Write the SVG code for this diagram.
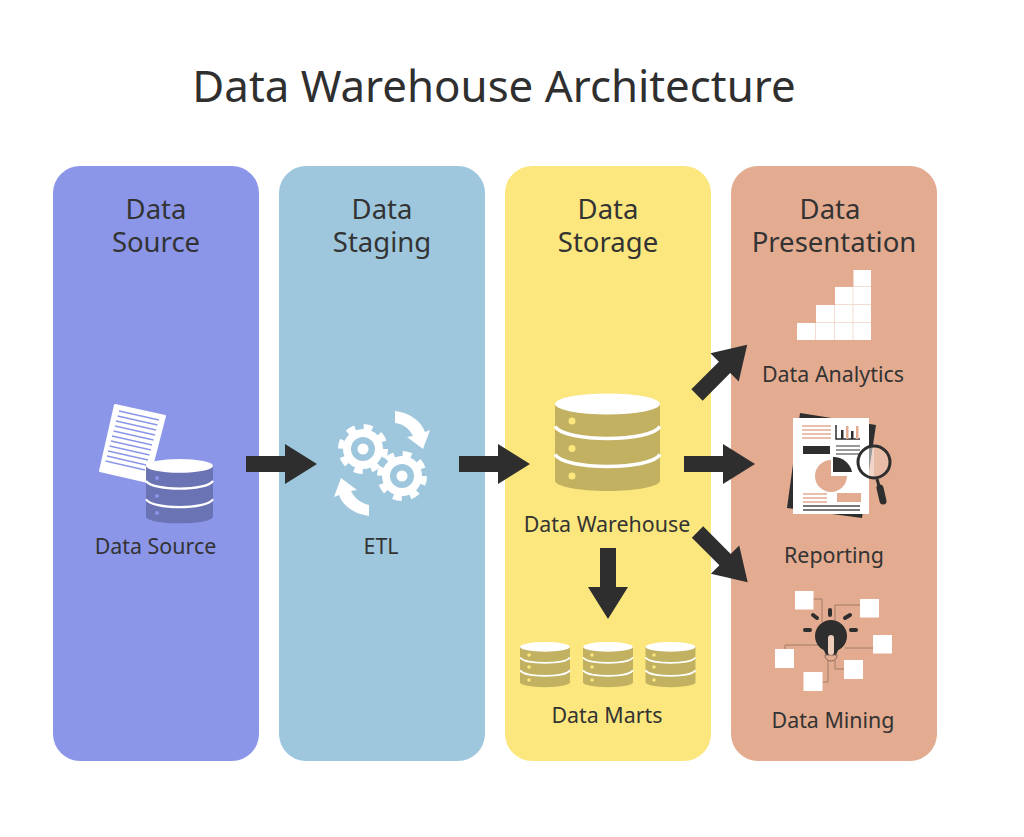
<svg xmlns="http://www.w3.org/2000/svg" xmlns:xlink="http://www.w3.org/1999/xlink" width="1024" height="837" viewBox="0 0 1024 837">
<style>
  text { font-family: "Noto Sans", "Open Sans", "Liberation Sans", sans-serif; fill: #333; text-anchor: middle; }
  .title { font-size: 43.800px; fill: #2f2f2f; }
  .head { font-size: 27.500px; }
  .label { font-size: 21.400px; }
  .arrow { fill: #2e2e2e; }
  .paper { fill: #fff; }
  .ink { fill: #2e2e2e; }
  .wire { fill: none; stroke: #a07c69; stroke-width: 1; }
  .ray { stroke: #2e2e2e; stroke-width: 4; stroke-linecap: round; }
</style>
<defs>
  <polygon id="arrowShape" points="0,-8 39,-8 39,-20 71,0 39,20 39,8 0,8"/>
  <!-- three-tier cylinder, 105 wide and 97 tall; the tint comes from the using element -->
  <g id="cylinder">
    <path d="M0,10 V87 C0,93 24,97.500 52.500,97.500 S105,93 105,87 V10 Z"/>
    <ellipse cx="52.500" cy="10.500" rx="52.500" ry="10.500" fill="#fff"/>
    <path d="M0,33 C10,49 95,49 105,33 M0,61 C10,77 95,77 105,61" fill="none" stroke="#fff" stroke-width="3.500"/>
  </g>
  <g id="gear">
    <circle r="20" fill="#fff"/>
    <circle r="21.500" fill="none" stroke="#fff" stroke-width="7" stroke-dasharray="8.500 8.390"/>
    <circle r="12" fill="#9ec7dd"/>
    <circle r="5.500" fill="#fff"/>
  </g>
</defs>

<rect width="1024" height="837" fill="#fff"/>
<text class="title" x="494" y="102">Data Warehouse Architecture</text>

<g id="data-source">
  <rect x="53" y="166" width="206" height="595" rx="27" fill="#8b96e9"/>
  <text class="head"><tspan x="156" y="219">Data</tspan><tspan x="156" y="252">Source</tspan></text>
  <polygon class="paper" stroke="#fff" stroke-width="2" stroke-linejoin="round" points="115,405 165,416 148,482 100,471"/>
  <path stroke="#8b96e9" stroke-width="1.300" d="M119,411 L159,420 M117.500,416 L157.500,425 M116,421 L156,430 M115,426 L155,435 M113.500,431 L153.500,440 M112,436 L152,445 M111,441 L151,450 M109.500,446 L149.500,455 M108,451 L148,460 M107,456 L146,465 M105.500,461 L145,470"/>
  <use href="#cylinder" transform="translate(146,459) scale(0.638,0.66)" fill="#6a73b3"/>
  <g fill="#8b96e9"><circle cx="157" cy="478" r="2"/><circle cx="157" cy="496" r="2"/><circle cx="157" cy="513" r="2"/></g>
  <text class="label" x="155.500" y="553.500">Data Source</text>
</g>

<g id="data-staging">
  <rect x="279" y="166" width="206" height="595" rx="27" fill="#9ec7dd"/>
  <text class="head"><tspan x="382" y="219">Data</tspan><tspan x="382" y="252">Staging</tspan></text>
  <use href="#gear" x="363" y="449"/>
  <use href="#gear" x="402" y="476"/>
  <path class="paper" d="M395,411 C410,413 421,421 425,432 L430,430 L423,449 L407,437 L413,436 C409,428 403,424 395,423 Z"/>
  <path class="paper" d="M369,516 C354,514 343,506 339,495 L334,497 L341,478 L357,490 L351,491 C355,499 361,503 369,505 Z"/>
  <text class="label" x="381" y="553.500">ETL</text>
</g>

<g id="data-storage">
  <rect x="505" y="166" width="206" height="595" rx="27" fill="#fbe77e"/>
  <text class="head"><tspan x="608" y="219">Data</tspan><tspan x="608" y="252">Storage</tspan></text>
  <use id="warehouse" href="#cylinder" transform="translate(555,393.500)" fill="#c1b160"/>
  <g fill="#fbe77e"><circle cx="572" cy="421" r="3.500"/><circle cx="572" cy="448.500" r="3.500"/><circle cx="572" cy="476" r="3.500"/></g>
  <text class="label" x="607" y="531.500">Data Warehouse</text>
  <g fill="#c1b160">
    <use href="#cylinder" transform="translate(520,642) scale(0.476,0.464)"/>
    <use href="#cylinder" transform="translate(583,642) scale(0.476,0.464)"/>
    <use href="#cylinder" transform="translate(645.500,642) scale(0.476,0.464)"/>
  </g>
  <g fill="#fbe77e">
    <circle cx="529" cy="655" r="1.800"/><circle cx="529" cy="667" r="1.800"/><circle cx="529" cy="680" r="1.800"/>
    <circle cx="592" cy="655" r="1.800"/><circle cx="592" cy="667" r="1.800"/><circle cx="592" cy="680" r="1.800"/>
    <circle cx="654" cy="655" r="1.800"/><circle cx="654" cy="667" r="1.800"/><circle cx="654" cy="680" r="1.800"/>
  </g>
  <text class="label" x="607" y="722.500">Data Marts</text>
</g>

<g id="data-presentation">
  <rect x="731" y="166" width="206" height="595" rx="27" fill="#e3ab90"/>
  <text class="head"><tspan x="830" y="219">Data</tspan><tspan x="834" y="252">Presentation</tspan></text>

  <g id="analytics">
    <path class="paper" d="M797,323 H816 V305 H835 V287 H853.500 V270 H871 V340 H797 Z"/>
    <path fill="none" stroke="#f3dcd0" stroke-width="1" d="M815.500,323 V340 M834.500,305 V340 M853,287 V340 M816,322.500 H871 M835,304.500 H871 M853.500,286.500 H871"/>
  </g>
  <text class="label" x="833" y="381.500">Data Analytics</text>

  <g id="reporting">
    <polygon class="ink" points="800,413 876,425 862,518 787,508"/>
    <rect class="paper" x="793" y="418" width="76" height="96"/>
    <path d="M802,426 H831 M802,430 H831 M802,434 H831 M802,438 H831" stroke="#e3ab90" stroke-width="1.500"/>
    <path d="M836,425 V439 H860" fill="none" stroke="#2e2e2e" stroke-width="1.500"/>
    <rect class="ink" x="841" y="430" width="2.500" height="9"/>
    <rect x="846" y="426" width="2.500" height="13" fill="#e3ab90"/>
    <rect class="ink" x="851" y="431" width="2.500" height="8"/>
    <rect x="856" y="426" width="2.500" height="13" fill="#e3ab90"/>
    <rect class="ink" x="803" y="446" width="27" height="8"/>
    <path d="M836,446 H860 M836,450 H860 M836,454 H860" stroke="#999" stroke-width="2"/>
    <path d="M831,460 A16,16 0 1 0 847,476 H831 Z" fill="#e3ab90"/>
    <path d="M833,457 V472 H852 A19,19 0 0 0 833,457 Z" class="ink"/>
    <path d="M803,494 H827 M803,498 H827 M803,502 H827" stroke="#e3ab90" stroke-width="1.500"/>
    <rect x="837" y="493" width="24" height="9" fill="#e3ab90"/>
    <path d="M803,506 H860 M803,510 H860" stroke="#777" stroke-width="1.800"/>
    <circle cx="874" cy="462" r="16" fill="#fff" fill-opacity="0.5"/>
    <path d="M874,446 A16,16 0 0 1 874,478 Z" fill="#e3ab90" fill-opacity="0.6"/>
    <circle cx="874" cy="462" r="16" fill="none" stroke="#2e2e2e" stroke-width="3"/>
    <path d="M877,479 L879,486" stroke="#2e2e2e" stroke-width="3"/>
    <path d="M880,488 L883,501" stroke="#2e2e2e" stroke-width="7" stroke-linecap="round"/>
  </g>
  <text class="label" x="834" y="562.500">Reporting</text>

  <g id="mining">
    <path class="wire" d="M813,599 H822 V622 M860,605 H835 V620 M873,648 H845 M844,669 H835 V660 M823,682 H828 V660 M785,649 V645 H818"/>
    <circle class="ink" cx="831" cy="636" r="16"/>
    <path class="ink" d="M823,648 H839 L836,655 H826 Z"/>
    <path d="M825,655 H837 V656 A6,5 0 0 1 825,656 Z" fill="#e3ab90" stroke="#8a6a5a" stroke-width="1"/>
    <rect x="828" y="635" width="6" height="20" rx="3" fill="#eecdbb"/>
    <path class="ray" d="M830,610 V615 M813,615 L817,618 M850,615 L845,618 M805,630 H810 M851,630 H856"/>
    <rect class="paper" x="795" y="591" width="18.500" height="18.500"/>
    <rect class="paper" x="860" y="599" width="19" height="18.500"/>
    <rect class="paper" x="873" y="635" width="19" height="18.500"/>
    <rect class="paper" x="844" y="660" width="19" height="19"/>
    <rect class="paper" x="803.500" y="672" width="19" height="19"/>
    <rect class="paper" x="775" y="649" width="19" height="19"/>
  </g>
  <text class="label" x="833" y="727.500">Data Mining</text>
</g>

<g id="connectors" class="arrow">
  <use href="#arrowShape" transform="translate(246,464)"/>
  <use href="#arrowShape" transform="translate(459,464)"/>
  <use href="#arrowShape" transform="translate(684,464)"/>
  <use href="#arrowShape" transform="translate(608,548) rotate(90)"/>
  <use href="#arrowShape" transform="translate(697,395) rotate(-45)"/>
  <use href="#arrowShape" transform="translate(697.500,532) rotate(45)"/>
</g>
</svg>
